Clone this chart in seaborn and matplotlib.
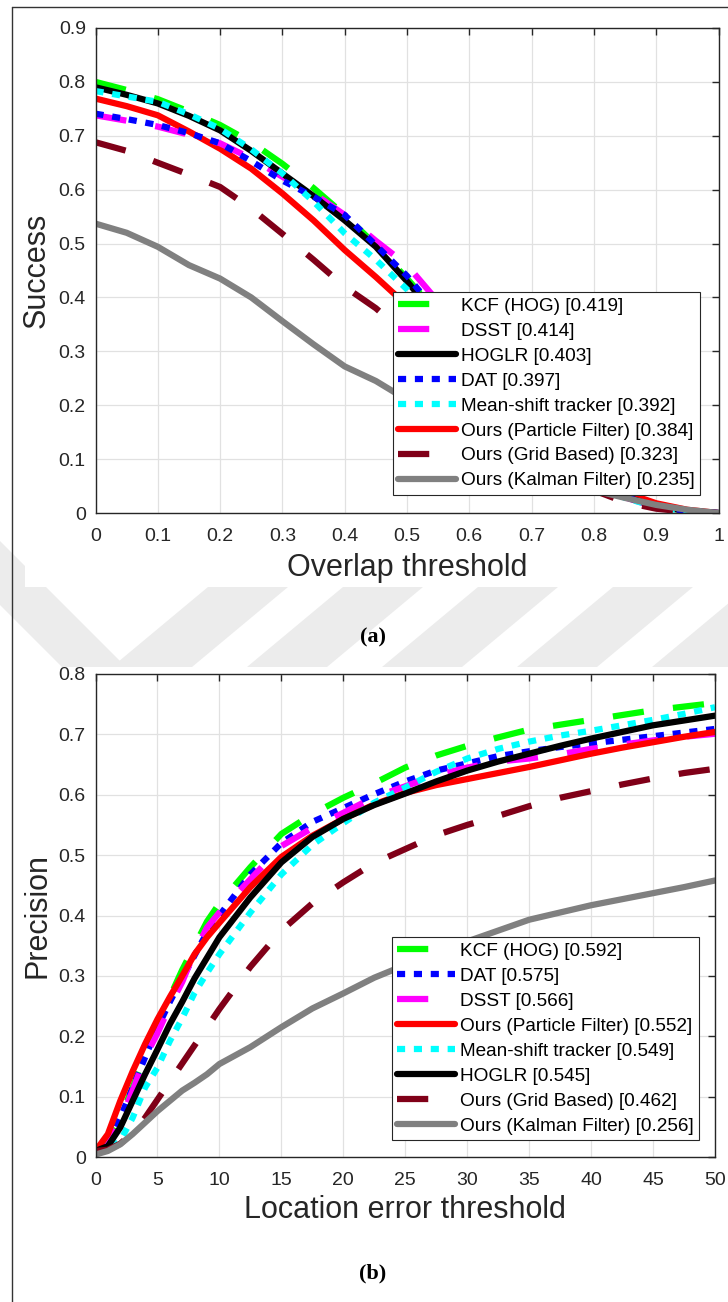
import matplotlib
matplotlib.use("Agg")
import matplotlib.pyplot as plt
from matplotlib.lines import Line2D
from matplotlib.patches import Polygon, Rectangle
from matplotlib.ticker import FuncFormatter, MultipleLocator
import seaborn as sns

# ---------------------------------------------------------------- data
# (a) success plot
overlap_thr = [0.00, 0.05, 0.10, 0.15, 0.20, 0.25, 0.30, 0.35, 0.40, 0.45, 0.50,
               0.55, 0.60, 0.65, 0.70, 0.75, 0.80, 0.85, 0.90, 0.95, 1.00]
succ_kcf = [0.800, 0.785, 0.768, 0.745, 0.720, 0.688, 0.648, 0.603, 0.553, 0.497, 0.435,
            0.370, 0.300, 0.232, 0.168, 0.112, 0.065, 0.032, 0.013, 0.004, 0.000]
succ_dsst = [0.738, 0.728, 0.717, 0.702, 0.686, 0.658, 0.624, 0.593, 0.553, 0.505, 0.460,
             0.392, 0.312, 0.236, 0.166, 0.106, 0.060, 0.029, 0.011, 0.003, 0.000]
succ_hoglr = [0.790, 0.776, 0.760, 0.737, 0.710, 0.672, 0.630, 0.588, 0.543, 0.494, 0.430,
              0.360, 0.290, 0.222, 0.160, 0.105, 0.060, 0.030, 0.012, 0.004, 0.000]
succ_dat = [0.741, 0.731, 0.720, 0.705, 0.686, 0.653, 0.617, 0.587, 0.553, 0.497, 0.440,
            0.370, 0.300, 0.230, 0.165, 0.108, 0.062, 0.030, 0.012, 0.004, 0.000]
succ_ms = [0.783, 0.773, 0.763, 0.740, 0.713, 0.675, 0.630, 0.578, 0.519, 0.470, 0.415,
           0.350, 0.285, 0.218, 0.155, 0.100, 0.057, 0.028, 0.011, 0.003, 0.000]
succ_pf = [0.769, 0.755, 0.738, 0.708, 0.676, 0.639, 0.593, 0.543, 0.488, 0.438, 0.385,
           0.325, 0.265, 0.205, 0.150, 0.103, 0.065, 0.038, 0.018, 0.006, 0.000]
succ_grid = [0.688, 0.672, 0.650, 0.628, 0.605, 0.565, 0.518, 0.470, 0.420, 0.380, 0.330,
             0.268, 0.208, 0.155, 0.108, 0.070, 0.042, 0.020, 0.008, 0.002, 0.000]
succ_kalman = [0.537, 0.520, 0.494, 0.460, 0.435, 0.400, 0.356, 0.313, 0.272, 0.245, 0.210,
               0.172, 0.137, 0.107, 0.082, 0.060, 0.042, 0.028, 0.015, 0.006, 0.000]

# (b) precision plot
loc_thr = [0, 1, 2, 3, 4, 5, 6, 7, 8, 9, 10, 12.5, 15, 17.5, 20, 22.5, 25, 27.5,
           30, 32.5, 35, 37.5, 40, 42.5, 45, 47.5, 50]
prec_kcf = [0.010, 0.025, 0.065, 0.115, 0.170, 0.220, 0.265, 0.310, 0.350, 0.390, 0.420,
            0.480, 0.535, 0.568, 0.595, 0.619, 0.645, 0.665, 0.681, 0.695, 0.708, 0.716,
            0.724, 0.732, 0.740, 0.746, 0.752]
prec_dat = [0.010, 0.020, 0.065, 0.115, 0.165, 0.214, 0.257, 0.296, 0.334, 0.372, 0.400,
            0.468, 0.520, 0.555, 0.578, 0.601, 0.622, 0.640, 0.652, 0.664, 0.672, 0.679,
            0.685, 0.691, 0.697, 0.703, 0.709]
prec_dsst = [0.010, 0.020, 0.060, 0.110, 0.165, 0.205, 0.250, 0.290, 0.340, 0.380, 0.405,
             0.460, 0.515, 0.545, 0.570, 0.596, 0.614, 0.632, 0.645, 0.655, 0.660, 0.667,
             0.676, 0.683, 0.690, 0.696, 0.701]
prec_pf = [0.010, 0.038, 0.093, 0.142, 0.187, 0.228, 0.265, 0.300, 0.336, 0.364, 0.388,
           0.447, 0.497, 0.532, 0.560, 0.584, 0.603, 0.616, 0.626, 0.636, 0.646, 0.657,
           0.668, 0.678, 0.687, 0.696, 0.704]
prec_ms = [0.010, 0.012, 0.027, 0.065, 0.115, 0.148, 0.192, 0.230, 0.272, 0.305, 0.336,
           0.405, 0.468, 0.517, 0.553, 0.587, 0.612, 0.638, 0.660, 0.676, 0.688, 0.698,
           0.706, 0.715, 0.724, 0.734, 0.745]
prec_hoglr = [0.010, 0.018, 0.049, 0.093, 0.137, 0.178, 0.220, 0.257, 0.296, 0.330, 0.364,
              0.430, 0.488, 0.530, 0.560, 0.583, 0.602, 0.622, 0.640, 0.655, 0.668, 0.681,
              0.693, 0.704, 0.715, 0.723, 0.731]
prec_grid = [0.010, 0.012, 0.022, 0.040, 0.065, 0.095, 0.125, 0.155, 0.185, 0.215, 0.245,
             0.315, 0.375, 0.420, 0.455, 0.487, 0.510, 0.533, 0.550, 0.565, 0.581, 0.595,
             0.606, 0.617, 0.627, 0.636, 0.643]
prec_kalman = [0.004, 0.010, 0.021, 0.038, 0.057, 0.076, 0.093, 0.110, 0.123, 0.137, 0.154,
               0.182, 0.215, 0.246, 0.271, 0.297, 0.318, 0.340, 0.357, 0.375, 0.393, 0.405,
               0.417, 0.427, 0.437, 0.447, 0.458]

# legend labels, in legend order
labels_a = ["KCF (HOG) [0.419]", "DSST [0.414]", "HOGLR [0.403]", "DAT [0.397]",
            "Mean-shift tracker [0.392]", "Ours (Particle Filter) [0.384]",
            "Ours (Grid Based) [0.323]", "Ours (Kalman Filter) [0.235]"]
keys_a = ["kcf", "dsst", "hoglr", "dat", "ms", "pf", "grid", "kalman"]
labels_b = ["KCF (HOG) [0.592]", "DAT [0.575]", "DSST [0.566]",
            "Ours (Particle Filter) [0.552]", "Mean-shift tracker [0.549]",
            "HOGLR [0.545]", "Ours (Grid Based) [0.462]", "Ours (Kalman Filter) [0.256]"]
keys_b = ["kcf", "dat", "dsst", "pf", "ms", "hoglr", "grid", "kalman"]

series_a = {"kcf": succ_kcf, "dsst": succ_dsst, "hoglr": succ_hoglr, "dat": succ_dat,
            "ms": succ_ms, "pf": succ_pf, "grid": succ_grid, "kalman": succ_kalman}
series_b = {"kcf": prec_kcf, "dat": prec_dat, "dsst": prec_dsst, "pf": prec_pf,
            "ms": prec_ms, "hoglr": prec_hoglr, "grid": prec_grid, "kalman": prec_kalman}

# ---------------------------------------------------------------- styles
DASH = (0, (5.0, 4.7))
DOT = (0, (1.3, 1.4))
STYLE = {
    "kcf": ("#00ff00", DASH),
    "dsst": ("#ff00ff", DASH),
    "hoglr": ("#000000", "-"),
    "dat": ("#0000ff", DOT),
    "ms": ("#00ffff", DOT),
    "pf": ("#ff0000", "-"),
    "grid": ("#800018", DASH),
    "kalman": ("#808080", "-"),
}
LW = 4.5
INK = "#262626"

sns.set_theme(style="whitegrid")
plt.rcParams["font.family"] = ["Liberation Sans", "DejaVu Sans"]

W, H = 728, 1302
fig = plt.figure(figsize=(W / 100, H / 100), dpi=100)
fig.patch.set_facecolor("white")


def fx(x):
    return x / W


def fy(y):
    return 1 - y / H


# faint background stripes of the page, visible between the two figures
stripe_col = "#ececec"
for cx in [200, 335, 470, 605, 740]:
    pts = []
    for yy, side in [(540, -1), (540, 1), (667, 1), (667, -1)]:
        xx = cx - 1.2 * (yy - 627) + side * 40
        pts.append((fx(xx), fy(yy)))
    fig.add_artist(Polygon(pts, closed=True, transform=fig.transFigure,
                           facecolor=stripe_col, edgecolor="none", zorder=-10))
pts = []
for yy, side in [(420, -1), (420, 1), (667, 1), (667, -1)]:
    xx = 60 + 1.0 * (yy - 633) + side * 32
    pts.append((fx(xx), fy(yy)))
fig.add_artist(Polygon(pts, closed=True, transform=fig.transFigure,
                       facecolor=stripe_col, edgecolor="none", zorder=-10))
fig.add_artist(Rectangle((fx(25), fy(587)), 1, 587 / H, transform=fig.transFigure,
                         facecolor="white", edgecolor="none", zorder=-9))
fig.add_artist(Rectangle((0, 0), 1, fy(667), transform=fig.transFigure,
                         facecolor="white", edgecolor="none", zorder=-9))
# page frame
fig.add_artist(Line2D([fx(11.5), fx(11.5)], [fy(7), 0], transform=fig.transFigure,
                      color="#333333", lw=1.0))
fig.add_artist(Line2D([fx(11.5), 1], [fy(7), fy(7)], transform=fig.transFigure,
                      color="#333333", lw=1.0))

ax_a = fig.add_axes([fx(95.5), fy(513), (718.5 - 95.5) / W, (513 - 28) / H])
ax_b = fig.add_axes([fx(95.5), fy(1157), (715 - 95.5) / W, (1157 - 674) / H])

fmt = FuncFormatter(lambda v, p: f"{v:g}")


def style_axes(ax, xlim, ylim, xstep, ystep, xlabel, ylabel):
    ax.set_facecolor("white")
    ax.set_xlim(*xlim)
    ax.set_ylim(*ylim)
    ax.xaxis.set_major_locator(MultipleLocator(xstep))
    ax.yaxis.set_major_locator(MultipleLocator(ystep))
    ax.xaxis.set_major_formatter(fmt)
    ax.yaxis.set_major_formatter(fmt)
    ax.grid(True, color="#e1e1e1", linewidth=0.9)
    ax.set_axisbelow(True)
    for sp in ax.spines.values():
        sp.set_visible(True)
        sp.set_color(INK)
        sp.set_linewidth(1.0)
    ax.tick_params(direction="in", length=5, width=1.0, colors=INK, top=True,
                   right=True, labelsize=14)
    ax.tick_params(axis="x", pad=11)
    ax.tick_params(axis="y", pad=7)
    ax.set_xlabel(xlabel, fontsize=22, color=INK, va="center")
    ax.set_ylabel(ylabel, fontsize=22, color=INK, va="center")


def draw(ax, xs, series, keys, labels, order, anchor):
    for k in order:
        col, ls = STYLE[k]
        sns.lineplot(x=xs, y=series[k], ax=ax, color=col, linewidth=LW,
                     linestyle=ls, legend=False)
    handles = [Line2D([], [], color=STYLE[k][0], linestyle=STYLE[k][1], linewidth=LW)
               for k in keys]
    leg = ax.legend(handles, labels, loc="upper left", bbox_to_anchor=anchor,
                    bbox_transform=ax.transAxes, borderaxespad=0, fontsize=13.7,
                    handlelength=3.05, handletextpad=0.22, labelspacing=0.40,
                    borderpad=0.3, frameon=True, fancybox=False, framealpha=1,
                    edgecolor=INK)
    leg.get_frame().set_linewidth(0.8)
    for t in leg.get_texts():
        t.set_color("black")


draw(ax_a, overlap_thr, series_a, keys_a, labels_a,
     ["kcf", "pf", "dsst", "hoglr", "dat", "ms", "grid", "kalman"], (0.477, 0.456))
style_axes(ax_a, (0, 1), (0, 0.9), 0.1, 0.1, "Overlap threshold", "Success")
ax_a.xaxis.set_label_coords(0.5, (513 - 568) / 485)
ax_a.yaxis.set_label_coords((37 - 95.5) / 623, 0.5)

draw(ax_b, loc_thr, series_b, keys_b, labels_b,
     ["kcf", "dat", "dsst", "pf", "ms", "hoglr", "grid", "kalman"], (0.478, 0.4555))
style_axes(ax_b, (0, 50), (0, 0.8), 5, 0.1, "Location error threshold", "Precision")
ax_b.xaxis.set_label_coords(0.5, (1157 - 1210) / 483)
ax_b.yaxis.set_label_coords((37 - 95.5) / 619.5, 0.5)

cap = dict(family=["Liberation Serif", "DejaVu Serif"], fontweight="bold", fontsize=16,
           ha="center", va="center", color="black")
fig.text(fx(373), fy(637), "(a)", **cap)
fig.text(fx(373), fy(1273), "(b)", **cap)

fig.savefig("out.png", dpi=100, facecolor="white")
